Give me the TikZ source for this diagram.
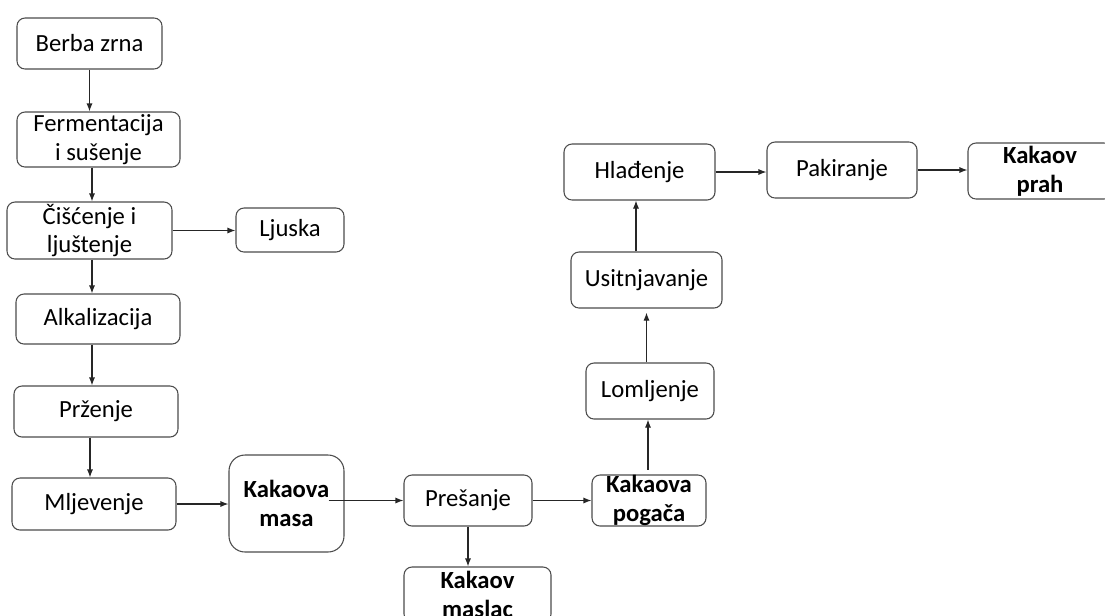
\documentclass[tikz,border=0pt]{standalone}
\usepackage{fontspec}
\setmainfont{Carlito}
\usetikzlibrary{arrows.meta}
\begin{document}
\begin{tikzpicture}[x=0.75pt,y=-0.75pt,
  box/.style={draw=black!70, line width=0.8pt, rounded corners=6pt, inner sep=0pt, align=center, font=\fontsize{18.5}{21.5}\selectfont, text=black, fill=white},
  bbox/.style={box, font=\fontsize{18.5}{21.5}\selectfont\bfseries},
  arr/.style={draw=black!85, line width=0.8pt, -{Latex[length=6pt,width=4.5pt]}}]
\clip (0,0) rectangle (1105,615);
\fill[white] (0,0) rectangle (1105,615);
% left column
\node[box, minimum width=108.75pt, minimum height=38.25pt] (berba) at (89.5,43.5) {Berba zrna};
\node[box, minimum width=122.25pt, minimum height=41.25pt] (ferm) at (98.5,139.5) {Fermentacija\\i sušenje};
\node[box, minimum width=123.75pt, minimum height=42.75pt] (cisc) at (89.5,230.5) {Čišćenje i\\ljuštenje};
\node[box, minimum width=81pt, minimum height=33pt] (ljuska) at (290,230) {Ljuska};
\node[box, minimum width=123pt, minimum height=37.5pt] (alk) at (98,319) {Alkalizacija};
\node[box, minimum width=123pt, minimum height=38.25pt] (przenje) at (96,411.5) {Prženje};
\node[box, minimum width=123pt, minimum height=39pt] (mlj) at (94,504) {Mljevenje};
% bottom row
\node[bbox, rounded corners=12pt, minimum width=86.25pt, minimum height=72.75pt] (masa) at (286.5,503.5) {Kakaova\\masa};
\node[box, minimum width=96pt, minimum height=38.25pt] (pres) at (468,500.5) {Prešanje};
\node[bbox, minimum width=110.25pt, minimum height=41.25pt] (maslac) at (477.5,594.5) {Kakaov\\maslac};
\node[bbox, minimum width=85.5pt, minimum height=38.25pt] (pogaca) at (649,500.5) {Kakaova\\pogača};
% right column
\node[box, minimum width=96pt, minimum height=42pt] (lom) at (650,391) {Lomljenje};
\node[box, minimum width=113.25pt, minimum height=42pt] (usit) at (646.5,280) {Usitnjavanje};
\node[box, minimum width=113.25pt, minimum height=42pt] (hlad) at (639.5,172) {Hlađenje};
\node[box, minimum width=112.5pt, minimum height=42pt] (pak) at (842,170) {Pakiranje};
\node[bbox, minimum width=108pt, minimum height=42pt] (prah) at (1040,171) {Kakaov\\prah};
% connectors
\draw[arr] (berba.south) -- (berba.south |- ferm.north);
\draw[arr] ([xshift=-4.875pt]ferm.south) -- ([xshift=-4.875pt]ferm.south |- cisc.north);
\draw[arr] (cisc.east) -- (cisc.east -| ljuska.west);
\draw[arr] ([xshift=1.875pt]cisc.south) -- ([xshift=1.875pt]cisc.south |- alk.north);
\draw[arr] ([xshift=-4.5pt]alk.south) -- ([xshift=-4.5pt]alk.south |- przenje.north);
\draw[arr] ([xshift=-4.5pt]przenje.south) -- ([xshift=-4.5pt]przenje.south |- mlj.north);
\draw[arr] (mlj.east) -- (mlj.east -| masa.west);
\draw[arr] ([xshift=-12pt]masa.east |- pres.west) -- (pres.west);
\draw[arr] (pres.east) -- (pres.east -| pogaca.west);
\draw[arr] (pres.south) -- (pres.south |- maslac.north);
\draw[arr, shorten <=3.5pt] ([xshift=-0.75pt]pogaca.north) -- ([xshift=-0.75pt]pogaca.north |- lom.south);
\draw[arr, shorten >=3pt] (usit.south |- lom.north) -- (usit.south);
\draw[arr] ([xshift=-2.625pt]hlad.south |- usit.north) -- ([xshift=-2.625pt]hlad.south);
\draw[arr] (hlad.east) -- (hlad.east -| pak.west);
\draw[arr] (pak.east) -- (pak.east -| prah.west);
\end{tikzpicture}
\end{document}
